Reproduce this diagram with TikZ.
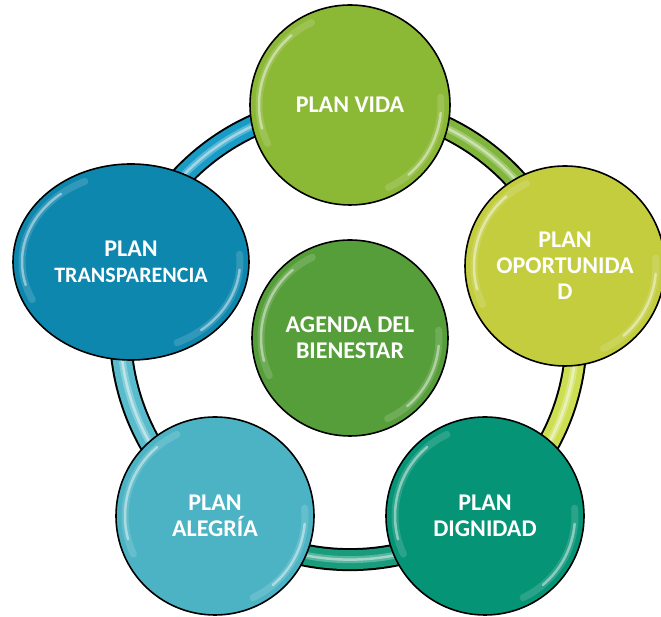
\documentclass[tikz,border=0pt]{standalone}
\usepackage{fontspec}
\setmainfont{Carlito}
\usetikzlibrary{shapes.geometric,backgrounds}
\definecolor{vidaC}{RGB}{139,184,53}
\definecolor{oportC}{RGB}{195,205,62}
\definecolor{dignC}{RGB}{6,148,118}
\definecolor{alegC}{RGB}{75,179,196}
\definecolor{transC}{RGB}{14,135,174}
\definecolor{agendaC}{RGB}{86,158,58}
\definecolor{rA}{RGB}{128,182,60}
\definecolor{rB}{RGB}{205,222,80}
\definecolor{rC}{RGB}{24,156,124}
\definecolor{rD}{RGB}{88,188,204}
\definecolor{rE}{RGB}{24,156,198}
\begin{document}
\begin{tikzpicture}[x=1pt,y=1pt,
  bubble/.style={circle, draw=black, line width=1.6pt, minimum size=200pt, inner sep=0pt,
    text=white, font=\bfseries\fontsize{24}{26}\selectfont, align=center},
  ringout/.style={draw=black, line width=23pt},
  ringin/.style={line width=19pt},
  ringhi/.style={line width=7pt, opacity=0.45},
  ringhi2/.style={line width=2.5pt, white, opacity=0.45},
  gloss/.style={draw=white, line width=2.5pt, opacity=0.45, line cap=round},
  glosswide/.style={draw=white, line width=7pt, opacity=0.15, line cap=round}]
\useasboundingbox (0,0) rectangle (661,617);

\node[bubble, fill=vidaC] (vida) at (350,512) {PLAN VIDA};
\node[bubble, fill=oportC] (oport) at (565,351) {PLAN\\OPORTUNIDA\\D};
\node[bubble, fill=dignC, minimum size=198pt] (dign) at (485,101) {PLAN\\DIGNIDAD};
\node[bubble, fill=alegC, minimum size=198pt] (aleg) at (215,101) {PLAN\\ALEGRÍA};
\node[bubble, ellipse, fill=transC, minimum width=236pt, minimum height=196pt] (trans) at (131,355) {PLAN\\{\fontsize{22}{26}\selectfont TRANSPARENCIA}};
\node[bubble, fill=agendaC, minimum size=196pt] (agenda) at (350,279) {AGENDA DEL\\BIENESTAR};

\begin{scope}[on background layer]
  \foreach \a/\b in {vida/oport, oport/dign, dign/aleg, aleg/trans, trans/vida}
    \draw[ringout] (\a.center) to[bend left=36, looseness=0.94] (\b.center);
  \foreach \a/\b/\c in {vida/oport/rA, oport/dign/rB, dign/aleg/rC, aleg/trans/rD, trans/vida/rE} {
    \draw[ringin, draw=\c] (\a.center) to[bend left=36, looseness=0.94] (\b.center);
    \draw[ringhi, draw=\c!40!white] (\a.center) to[bend left=36, looseness=0.94] (\b.center);
    \draw[ringhi2] (\a.center) to[bend left=36, looseness=0.94] (\b.center);
  }
\end{scope}

\foreach \n/\r in {vida/100, oport/100, dign/99, aleg/99, agenda/98} {
  \draw[glosswide] (\n.center) ++(205:{\r-9}) arc[start angle=205, end angle=115, radius={\r-9}];
  \draw[gloss] (\n.center) ++(195:{\r-9}) arc[start angle=195, end angle=130, radius={\r-9}];
  \draw[glosswide] (\n.center) ++(5:{\r-9}) arc[start angle=5, end angle=-65, radius={\r-9}];
  \draw[gloss] (\n.center) ++(-5:{\r-9}) arc[start angle=-5, end angle=-50, radius={\r-9}];
}
\draw[glosswide] (trans.center) ++(205:109 and 89) arc[start angle=205, end angle=115, x radius=109, y radius=89];
\draw[gloss] (trans.center) ++(195:109 and 89) arc[start angle=195, end angle=130, x radius=109, y radius=89];
\draw[glosswide] (trans.center) ++(5:109 and 89) arc[start angle=5, end angle=-65, x radius=109, y radius=89];
\draw[gloss] (trans.center) ++(-5:109 and 89) arc[start angle=-5, end angle=-50, x radius=109, y radius=89];
\end{tikzpicture}
\end{document}
